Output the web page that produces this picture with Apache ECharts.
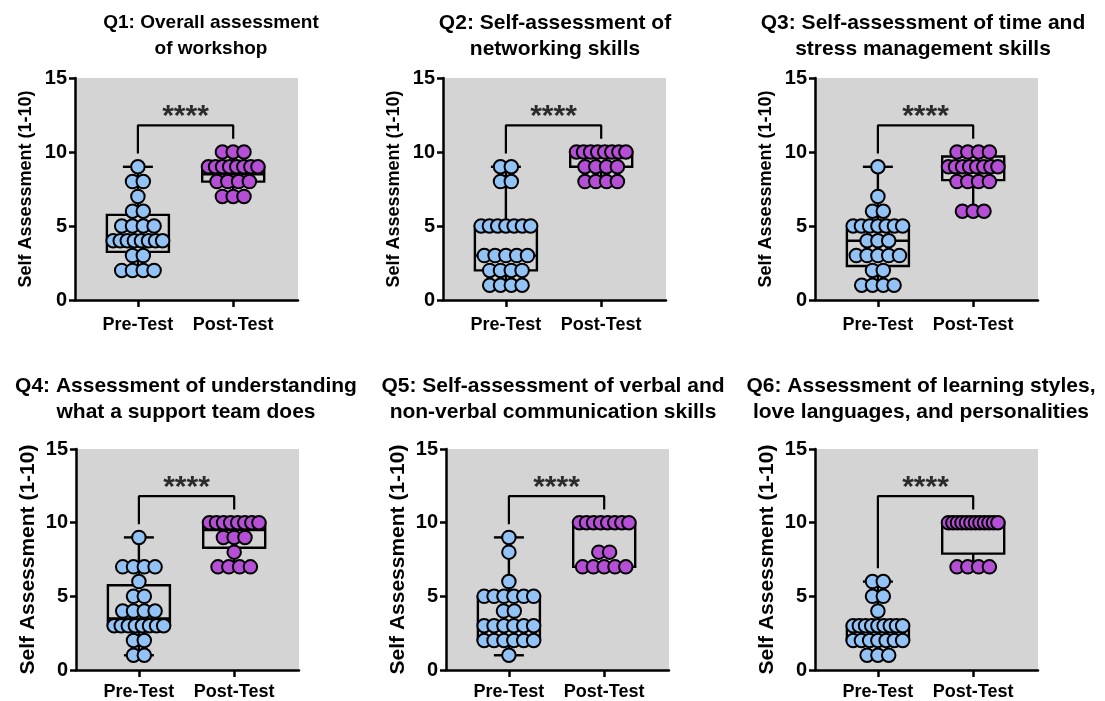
<!DOCTYPE html>
<html><head><meta charset="utf-8">
<script src="https://cdn.jsdelivr.net/npm/echarts@6/dist/echarts.min.js"></script>
<style>html,body{margin:0;padding:0;background:#fff}#c{width:1105px;height:701px}</style>
</head><body><div id="c"></div><script>
// ---------------- DATA ----------------
const categories = ['Pre-Test', 'Post-Test'];
const yTickValues = [0, 5, 10, 15];
const yAxisName = 'Self Assessment (1-10)';
const titles = [
  'Q1: Overall assessment\nof workshop',
  'Q2: Self-assessment of\nnetworking skills',
  'Q3: Self-assessment of time and\nstress management skills',
  'Q4: Assessment of understanding\nwhat a support team does',
  'Q5: Self-assessment of verbal and\nnon-verbal communication skills',
  'Q6: Assessment of learning styles,\nlove languages, and personalities'
];
const significance = ['****', '****', '****', '****', '****', '****'];

// individual responses (1-10)
const q1Pre  = [9,8,8,7,6,6,5,5,5,5,4,4,4,4,4,4,4,4,3,3,2,2,2,2];
const q1Post = [10,10,10,9,9,9,9,9,9,9,9,8,8,8,8,7,7,7];
const q2Pre  = [9,9,8,8,5,5,5,5,5,5,5,3,3,3,3,3,2,2,2,2,1,1,1,1];
const q2Post = [10,10,10,10,10,10,10,10,9,9,9,9,8,8,8,8];
const q3Pre  = [9,7,6,6,5,5,5,5,5,5,5,4,4,4,3,3,3,3,3,2,2,1,1,1,1];
const q3Post = [10,10,10,10,9,9,9,9,9,9,9,9,8,8,8,8,6,6,6];
const q4Pre  = [9,7,7,7,7,6,5,5,4,4,4,4,3,3,3,3,3,3,3,3,2,2,1,1];
const q4Post = [10,10,10,10,10,10,10,10,9,9,9,8,7,7,7,7];
const q5Pre  = [9,8,6,5,5,5,5,5,5,4,4,3,3,3,3,3,3,2,2,2,2,2,2,1];
const q5Post = [10,10,10,10,10,10,10,10,8,8,7,7,7,7,7];
const q6Pre  = [6,6,5,5,4,3,3,3,3,3,3,3,3,3,2,2,2,2,2,2,2,1,1,1];
const q6Post = [10,10,10,10,10,10,10,10,10,10,10,10,7,7,7,7];

// box plot stats [min, Q1, median, Q3, max]
const q1PreBox  = [2, 3.25, 4, 5.75, 9];
const q1PostBox = [7, 8, 8.5, 9, 10];
const q2PreBox  = [1, 2, 3, 5, 9];
const q2PostBox = [8, 9, 10, 10, 10];
const q3PreBox  = [1, 2.3, 4, 4.75, 9];
const q3PostBox = [6, 8.1, 9, 9.7, 10];
const q4PreBox  = [1, 3, 3.5, 5.75, 9];
const q4PostBox = [7, 8.3, 9.5, 10, 10];
const q5PreBox  = [1, 2, 3, 5, 9];
const q5PostBox = [7, 7, 10, 10, 10];
const q6PreBox  = [1, 2, 3, 3, 6];
const q6PostBox = [7, 7.9, 10, 10, 10];

const bracketTop = 11.8;
const starLevel = 12.35;

// ---------------- LAYOUT / STYLE ----------------
const FONT = '"Liberation Sans", Arial, sans-serif';
const BLUE = '#93c3f5';
const PURPLE = '#b54fd6';
const GRAYBG = '#d4d4d4';
const X_MIN = 0.34, X_MAX = 2.68;
const GW = 223;
const PX_PER_UNIT = GW / (X_MAX - X_MIN);
const DOT = 13.5;

const panels = [
  {pre: q1Pre, post: q1Post, preBox: q1PreBox, postBox: q1PostBox, left: 75,  top: 78,  h: 222, tx: 211, ty: 36,  tfs: 19, row: 0},
  {pre: q2Pre, post: q2Post, preBox: q2PreBox, postBox: q2PostBox, left: 443, top: 78,  h: 222, tx: 555, ty: 36,  tfs: 21, row: 0},
  {pre: q3Pre, post: q3Post, preBox: q3PreBox, postBox: q3PostBox, left: 815, top: 78,  h: 222, tx: 923, ty: 36,  tfs: 21, row: 0},
  {pre: q4Pre, post: q4Post, preBox: q4PreBox, postBox: q4PostBox, left: 76,  top: 449, h: 223, tx: 186, ty: 399, tfs: 21, row: 1},
  {pre: q5Pre, post: q5Post, preBox: q5PreBox, postBox: q5PostBox, left: 446, top: 449, h: 223, tx: 553, ty: 399, tfs: 21, row: 1},
  {pre: q6Pre, post: q6Post, preBox: q6PreBox, postBox: q6PostBox, left: 815, top: 449, h: 223, tx: 921, ty: 399, tfs: 21, row: 1}
];

function swarm(values, xc) {
  const counts = new Map();
  values.forEach(v => counts.set(v, (counts.get(v) || 0) + 1));
  const pts = [];
  counts.forEach((n, v) => {
    const sp = n > 1 ? Math.min(10.8, 49.5 / (n - 1)) : 0;
    for (let i = 0; i < n; i++) {
      pts.push([xc + (i - (n - 1) / 2) * sp / PX_PER_UNIT, v]);
    }
  });
  return pts;
}

const BOX_HALF = 31 / PX_PER_UNIT;
const CAP_HALF = 15 / PX_PER_UNIT;

function renderBox(params, api) {
  const x = api.value(0);
  const mn = api.value(1), q1 = api.value(2), md = api.value(3), q3 = api.value(4), mx = api.value(5);
  const c = (a, b) => api.coord([a, b]);
  const st = {stroke: '#000', lineWidth: 2.4, fill: null};
  const tl = c(x - BOX_HALF, q3), br = c(x + BOX_HALF, q1);
  const children = [
    {type: 'rect', shape: {x: tl[0], y: tl[1], width: br[0] - tl[0], height: br[1] - tl[1]}, style: {stroke: '#000', lineWidth: 2.4, fill: 'rgba(0,0,0,0)'}},
  ];
  const line = (p1, p2) => ({type: 'line', shape: {x1: p1[0], y1: p1[1], x2: p2[0], y2: p2[1]}, style: st});
  children.push(line(c(x - BOX_HALF, md), c(x + BOX_HALF, md)));
  if (mx > q3) {
    children.push(line(c(x, q3), c(x, mx)));
    children.push(line(c(x - CAP_HALF, mx), c(x + CAP_HALF, mx)));
  }
  if (mn < q1) {
    children.push(line(c(x, q1), c(x, mn)));
    children.push(line(c(x - CAP_HALF, mn), c(x + CAP_HALF, mn)));
  }
  return {type: 'group', children};
}

const grid = [], xAxis = [], yAxis = [], series = [], graphic = [];
panels.forEach((p, i) => {
  const big = p.row === 1;
  grid.push({left: p.left, top: p.top, width: GW, height: p.h, show: true, backgroundColor: GRAYBG, borderWidth: 0, containLabel: false});
  xAxis.push({
    gridIndex: i, type: 'value', min: X_MIN, max: X_MAX,
    axisLine: {show: true, onZero: false, lineStyle: {color: '#000', width: 2.5}},
    axisTick: {show: true, customValues: [1, 2], length: 7, lineStyle: {color: '#000', width: 2.5}},
    axisLabel: {show: true, customValues: [1, 2], margin: big ? 13 : 16, color: '#000', fontFamily: FONT, fontWeight: 'bold', fontSize: 18,
      formatter: v => categories[Math.round(v) - 1] || ''},
    splitLine: {show: false}
  });
  yAxis.push({
    gridIndex: i, type: 'value', min: 0, max: 15, interval: 5,
    name: yAxisName, nameLocation: 'middle', nameRotate: 90, nameGap: big ? 37 : 40,
    nameTextStyle: {color: '#000', fontFamily: FONT, fontWeight: 'bold', fontSize: big ? 21 : 18},
    axisLine: {show: true, lineStyle: {color: '#000', width: 2.5}},
    axisTick: {show: true, length: 6, lineStyle: {color: '#000', width: 2.5}},
    axisLabel: {margin: 8, color: '#000', fontFamily: FONT, fontWeight: 'bold', fontSize: 20,
      customValues: yTickValues},
    splitLine: {show: false}
  });
  series.push({
    type: 'custom', xAxisIndex: i, yAxisIndex: i, z: 2, silent: true,
    renderItem: renderBox,
    encode: {x: 0, y: [1, 2, 3, 4, 5]},
    data: [[1].concat(p.preBox), [2].concat(p.postBox)]
  });
  series.push({
    type: 'scatter', xAxisIndex: i, yAxisIndex: i, z: 3, silent: true,
    symbolSize: DOT, itemStyle: {color: BLUE, borderColor: '#000', borderWidth: 2, opacity: 1},
    data: swarm(p.pre, 1)
  });
  series.push({
    type: 'scatter', xAxisIndex: i, yAxisIndex: i, z: 3, silent: true,
    symbolSize: DOT, itemStyle: {color: PURPLE, borderColor: '#000', borderWidth: 2, opacity: 1},
    data: swarm(p.post, 2)
  });
  series.push({
    type: 'line', xAxisIndex: i, yAxisIndex: i, z: 2, silent: true, symbol: 'none',
    lineStyle: {color: '#000', width: 2.2},
    data: [[1, p.preBox[4] + 0.9], [1, bracketTop], [2, bracketTop], [2, p.postBox[4] + 0.9]]
  });
  series.push({
    type: 'scatter', xAxisIndex: i, yAxisIndex: i, z: 4, silent: true,
    symbolSize: 1, itemStyle: {color: 'rgba(0,0,0,0)'},
    label: {show: true, position: 'inside', formatter: significance[i], color: '#000',
      fontFamily: FONT, fontWeight: 'bold', fontSize: 30},
    data: [[1.5, starLevel]]
  });
  graphic.push({
    type: 'text', x: p.tx, y: p.ty, silent: true,
    style: {text: titles[i], textAlign: 'center', textVerticalAlign: 'middle',
      font: 'bold ' + p.tfs + 'px ' + FONT, lineHeight: 26, fill: '#000'}
  });
});

const chart = echarts.init(document.getElementById('c'), null, {renderer: 'canvas'});
chart.setOption({animation: false, backgroundColor: '#fff', grid, xAxis, yAxis, series, graphic});
</script></body></html>
